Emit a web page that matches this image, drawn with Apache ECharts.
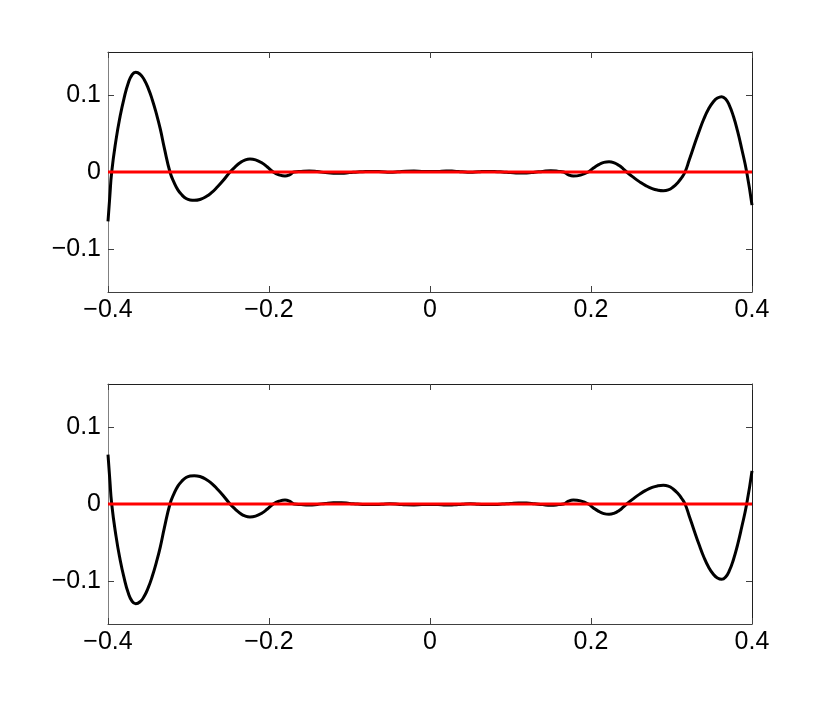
<!DOCTYPE html>
<html>
<head>
<meta charset="utf-8">
<script src="https://cdn.jsdelivr.net/npm/echarts@6/dist/echarts.min.js"></script>
<style>
  html, body { margin: 0; padding: 0; background: #fff; }
  #main { width: 830px; height: 702px; }
</style>
</head>
<body>
<div id="main"></div>
<script>
// x positions of the sampled curve points
var xs = [-0.4, -0.3977, -0.3954, -0.39, -0.385, -0.38, -0.375, -0.37, -0.3656,
  -0.36, -0.355, -0.35, -0.345, -0.34, -0.335, -0.33, -0.323,
  -0.318, -0.313, -0.308, -0.303, -0.298, -0.2928,
  -0.285, -0.278, -0.271, -0.264, -0.257, -0.2484,
  -0.242, -0.236, -0.23, -0.2236, -0.216, -0.209, -0.202, -0.1947,
  -0.1874, -0.1801, -0.1745, -0.1689,
  -0.16, -0.15, -0.14, -0.13, -0.12, -0.11, -0.1, -0.09, -0.08, -0.07, -0.06, -0.05,
  -0.04, -0.03, -0.02, -0.01, 0, 0.01, 0.02, 0.03, 0.04, 0.05, 0.06, 0.07, 0.08,
  0.09, 0.1, 0.11, 0.12, 0.13, 0.14, 0.15, 0.16, 0.166,
  0.172, 0.178, 0.187, 0.1966, 0.203, 0.209, 0.215, 0.2224, 0.229, 0.235, 0.24, 0.2443,
  0.252, 0.26, 0.268, 0.276, 0.283, 0.2898, 0.296, 0.302, 0.308, 0.3125, 0.3168,
  0.322, 0.328, 0.334, 0.34, 0.346, 0.352, 0.357, 0.3623,
  0.367, 0.372, 0.377, 0.382, 0.387, 0.3934, 0.4];

// upper panel
var topVals = [-0.064, -0.031, 0, 0.042, 0.072, 0.096, 0.115, 0.1265, 0.1295,
  0.1268, 0.1198, 0.1086, 0.0939, 0.0761, 0.0556, 0.031, 0,
  -0.0135, -0.0235, -0.03, -0.0343, -0.0363, -0.0368,
  -0.0354, -0.0319, -0.0264, -0.0192, -0.0111, 0,
  0.0067, 0.0119, 0.0155, 0.0169, 0.0155, 0.0119, 0.0065, 0,
  -0.0037, -0.0052, -0.0037, 0,
  0.0008, 0.0012, 0.0005, -0.0008, -0.0015, -0.0015, -0.0008, 0, 0.0006, 0.0008, 0.0004, -0.0002,
  0.0002, 0.001, 0.0012, 0.0008, 0.0005, 0.0008, 0.0014, 0.001, 0.0002, -0.0004, 0.0002, 0.0008, 0.0006,
  0, -0.0008, -0.0014, -0.0012, -0.0003, 0.0008, 0.0015, 0.0008, 0,
  -0.0037, -0.0052, -0.004, 0, 0.0051, 0.0092, 0.0121, 0.0134, 0.0119, 0.0083, 0.0041, 0,
  -0.0064, -0.0125, -0.0177, -0.0216, -0.0236, -0.0243, -0.0232, -0.0195, -0.0135, -0.0075, 0,
  0.0155, 0.034, 0.052, 0.0685, 0.0818, 0.0912, 0.096, 0.0978,
  0.0951, 0.0863, 0.072, 0.0533, 0.0311, 0, -0.043];

// lower panel
var bottomVals = [0.064, 0.031, 0, -0.042, -0.072, -0.096, -0.115, -0.1265, -0.1295,
  -0.1268, -0.1198, -0.1086, -0.0939, -0.0761, -0.0556, -0.031, 0,
  0.0135, 0.0235, 0.03, 0.0343, 0.0363, 0.0368,
  0.0354, 0.0319, 0.0264, 0.0192, 0.0111, 0,
  -0.0067, -0.0119, -0.0155, -0.0169, -0.0155, -0.0119, -0.0065, 0,
  0.0037, 0.0052, 0.0037, 0,
  -0.0008, -0.0012, -0.0005, 0.0008, 0.0015, 0.0015, 0.0008, 0, -0.0006, -0.0008, -0.0004, 0.0002,
  -0.0002, -0.001, -0.0012, -0.0008, -0.0005, -0.0008, -0.0014, -0.001, -0.0002, 0.0004, -0.0002, -0.0008, -0.0006,
  0, 0.0008, 0.0014, 0.0012, 0.0003, -0.0008, -0.0015, -0.0008, 0,
  0.0037, 0.0052, 0.004, 0, -0.0051, -0.0092, -0.0121, -0.0134, -0.0119, -0.0083, -0.0041, 0,
  0.0064, 0.0125, 0.0177, 0.0216, 0.0236, 0.0243, 0.0232, 0.0195, 0.0135, 0.0075, 0,
  -0.0155, -0.034, -0.052, -0.0685, -0.0818, -0.0912, -0.096, -0.0978,
  -0.0951, -0.0863, -0.072, -0.0533, -0.0311, 0, 0.043];

var xTicks = [-0.4, -0.2, 0, 0.2, 0.4];
var yTicks = [-0.1, 0, 0.1];
var zeroLine = [[-0.4, 0], [0.4, 0]];

function fmt(v) {
  return v < 0 ? '\u2212' + String(-v) : String(v);
}

function pairs(vals) {
  return xs.map(function (x, i) { return [x, vals[i]]; });
}

var labelFont = { fontFamily: 'Liberation Sans, Arial, sans-serif', fontSize: 25, color: '#000' };

function xAxisFor(gi, pos) {
  var bottom = pos === 'bottom';
  return {
    type: 'value', gridIndex: gi, position: pos, min: -0.4, max: 0.4,
    splitLine: { show: false },
    axisLine: { show: true, onZero: false, lineStyle: { color: bottom ? '#404040' : '#202020', width: 1 } },
    axisTick: { show: true, inside: true, length: 6, customValues: xTicks, lineStyle: { color: '#404040' } },
    axisLabel: Object.assign({ show: bottom, margin: 6, customValues: xTicks, formatter: fmt }, labelFont)
  };
}

function yAxisFor(gi, pos) {
  var left = pos === 'left';
  return {
    type: 'value', gridIndex: gi, position: pos, min: -0.1558, max: 0.1558,
    splitLine: { show: false },
    axisLine: { show: true, onZero: false, lineStyle: { color: left ? '#808080' : '#202020', width: 1 } },
    axisTick: { show: true, inside: true, length: 6, customValues: yTicks, lineStyle: { color: '#404040' } },
    axisLabel: Object.assign({ show: left, margin: 7, customValues: yTicks, formatter: fmt }, labelFont)
  };
}

var myChart = echarts.init(document.getElementById('main'), null, { renderer: 'canvas' });
var option = {
  animation: false,
  backgroundColor: '#fff',
  grid: [
    { left: 108, top: 52, width: 644, height: 240 },
    { left: 108, top: 384, width: 644, height: 240 }
  ],
  xAxis: [xAxisFor(0, 'bottom'), xAxisFor(0, 'top'), xAxisFor(1, 'bottom'), xAxisFor(1, 'top')],
  yAxis: [yAxisFor(0, 'left'), yAxisFor(0, 'right'), yAxisFor(1, 'left'), yAxisFor(1, 'right')],
  series: [
    {
      type: 'line', xAxisIndex: 0, yAxisIndex: 0, data: pairs(topVals),
      smooth: 0.5, showSymbol: false, lineStyle: { color: '#000', width: 3 }
    },
    {
      type: 'line', xAxisIndex: 0, yAxisIndex: 0, data: zeroLine,
      showSymbol: false, lineStyle: { color: '#ff0000', width: 3 }
    },
    {
      type: 'line', xAxisIndex: 2, yAxisIndex: 2, data: pairs(bottomVals),
      smooth: 0.5, showSymbol: false, lineStyle: { color: '#000', width: 3 }
    },
    {
      type: 'line', xAxisIndex: 2, yAxisIndex: 2, data: zeroLine,
      showSymbol: false, lineStyle: { color: '#ff0000', width: 3 }
    }
  ]
};
myChart.setOption(option);
</script>
</body>
</html>
